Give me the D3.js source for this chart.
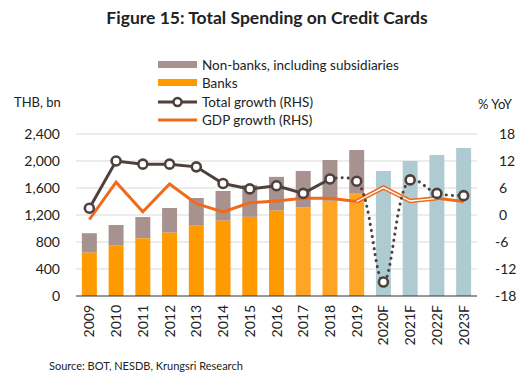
<!DOCTYPE html>
<html><head><meta charset="utf-8">
<script src="https://cdn.jsdelivr.net/npm/d3@7/dist/d3.min.js"></script>
<style>
body{margin:0;background:#fff;}
text{font-family:Lato, "Open Sans", sans-serif;fill:#222;}
</style></head>
<body><svg id="c" width="524" height="381"></svg>
<script>
const categories = ["2009","2010","2011","2012","2013","2014","2015","2016","2017","2018","2019","2020F","2021F","2022F","2023F"];
const banks = [642,745,855,938,1041,1116,1172,1264,1309,1410,1515,null,null,null,null];
const totalSpending = [930,1052,1170,1304,1452,1556,1644,1765,1852,2015,2163,1852,2000,2089,2193];
const totalGrowth = [1.5,12.0,11.3,11.3,10.7,7.0,5.8,6.5,4.8,8.0,7.5,-14.9,7.8,4.8,4.3];
const gdpGrowth = [-1.0,7.3,0.7,6.9,2.5,0.7,2.7,3.1,3.7,3.7,3.0,6.1,3.1,3.7,3.0];
const leftTicks = [0,400,800,1200,1600,2000,2400];
const rightTicks = [-18,-12,-6,0,6,12,18];

const C = {banks:"#FF9A00", banks2:"#FFA526", nonbanks:"#A8928F", forecast:"#AFCBD2", total:"#4E403D", gdp:"#F06A1C", grid:"#D9D9D9"};
const svg = d3.select("#c");
const m = {l:76, r:477, t:134, b:296};
const x = d3.scaleBand().domain(categories).range([m.l, m.r]).paddingInner(0.44).paddingOuter(0.22);
const yL = d3.scaleLinear().domain([0,2400]).range([m.b, m.t]);
const yR = d3.scaleLinear().domain([-18,18]).range([m.b, m.t]);
const cx = d => x(d) + x.bandwidth()/2;

// title
svg.append("text").attr("x",267).attr("y",24).attr("text-anchor","middle")
  .style("font-weight","bold").style("font-size","17.5px").attr("fill","#111").text("Figure 15: Total Spending on Credit Cards");

// gridlines
svg.append("g").selectAll("line").data(leftTicks.slice(1)).join("line")
  .attr("x1",m.l).attr("x2",m.r).attr("y1",d=>yL(d)).attr("y2",d=>yL(d))
  .attr("stroke",C.grid).attr("stroke-width",1);

// left axis labels
const fmt = d3.format(",");
svg.append("g").selectAll("text").data(leftTicks).join("text")
  .attr("x",60).attr("y",d=>yL(d)+5).attr("text-anchor","end").style("font-size","14px").text(d=>fmt(d));
// right axis labels
svg.append("g").selectAll("text").data(rightTicks).join("text")
  .attr("x",d=> d<0 ? 495 : 499).attr("y",d=>yR(d)+5).attr("text-anchor","start").style("font-size","14px").text(d=>d);

svg.append("text").attr("x",14).attr("y",107).style("font-size","13px").text("THB, bn");
svg.append("text").attr("x",478).attr("y",109).style("font-size","13px").text("% YoY");

// bars
const data = categories.map((c,i)=>({c, i, b:banks[i], t:totalSpending[i]}));
const g = svg.append("g");
data.forEach(d=>{
  if (d.b == null) {
    g.append("rect").attr("x",x(d.c)).attr("width",x.bandwidth())
      .attr("y",yL(d.t)).attr("height",yL(0)-yL(d.t)).attr("fill",C.forecast);
  } else {
    g.append("rect").attr("x",x(d.c)).attr("width",x.bandwidth())
      .attr("y",yL(d.t)).attr("height",yL(d.b)-yL(d.t)).attr("fill",C.nonbanks);
    g.append("rect").attr("x",x(d.c)).attr("width",x.bandwidth())
      .attr("y",yL(d.b)).attr("height",yL(0)-yL(d.b)).attr("fill", d.i>=8 ? C.banks2 : C.banks);
  }
});

// axis line
svg.append("line").attr("x1",m.l).attr("x2",m.r).attr("y1",m.b).attr("y2",m.b).attr("stroke","#333").attr("stroke-width",1.2);

// x labels
svg.append("g").selectAll("text").data(categories).join("text")
  .attr("transform",d=>`translate(${cx(d)+5},305) rotate(-90)`).attr("text-anchor","end")
  .style("font-size","14px").text(d=>d);

// GDP line
const pts = (arr) => arr.map((v,i)=>[cx(categories[i]), yR(v)]);
const gdpPts = pts(gdpGrowth);
const line = d3.line();
svg.append("path").attr("d",line(gdpPts.slice(0,11))).attr("fill","none").attr("stroke",C.gdp).attr("stroke-width",3);
svg.append("path").attr("d",line(gdpPts.slice(13,15))).attr("fill","none").attr("stroke",C.gdp).attr("stroke-width",3);
const dbl = gdpPts.slice(10,14);
svg.append("path").attr("d",line(dbl)).attr("fill","none").attr("stroke",C.gdp).attr("stroke-width",4.5);
svg.append("path").attr("d",line(dbl)).attr("fill","none").attr("stroke","#fff").attr("stroke-width",1.4);

// total growth
const tPts = pts(totalGrowth);
svg.append("path").attr("d",line(tPts.slice(0,10))).attr("fill","none").attr("stroke",C.total).attr("stroke-width",3);
svg.append("path").attr("d",d3.line().curve(d3.curveCatmullRom.alpha(0.5))(tPts.slice(9))).attr("fill","none")
  .attr("stroke",C.total).attr("stroke-width",3).attr("stroke-linecap","round").attr("stroke-dasharray","0.1 6");
svg.append("g").selectAll("circle").data(tPts).join("circle")
  .attr("cx",d=>d[0]).attr("cy",d=>d[1]).attr("r",4.5).attr("fill","#fff").attr("stroke",C.total).attr("stroke-width",2.6);

// legend
const lg = svg.append("g");
const lx = 158, lw = 39;
const rows = [65,83,102,120];
lg.append("rect").attr("x",lx).attr("y",rows[0]-4).attr("width",lw).attr("height",7).attr("fill",C.nonbanks);
lg.append("rect").attr("x",lx).attr("y",rows[1]-4).attr("width",lw).attr("height",7).attr("fill",C.banks);
lg.append("line").attr("x1",lx).attr("x2",lx+lw).attr("y1",rows[2]).attr("y2",rows[2]).attr("stroke",C.total).attr("stroke-width",3);
lg.append("circle").attr("cx",lx+lw/2).attr("cy",rows[2]).attr("r",4).attr("fill","#fff").attr("stroke",C.total).attr("stroke-width",2.5);
lg.append("line").attr("x1",lx).attr("x2",lx+lw).attr("y1",rows[3]).attr("y2",rows[3]).attr("stroke",C.gdp).attr("stroke-width",3);
const labels = ["Non-banks, including subsidiaries","Banks","Total growth (RHS)","GDP growth (RHS)"];
lg.selectAll("text").data(labels).join("text").attr("x",202).attr("y",(d,i)=>rows[i]+5).style("font-size","13.5px").text(d=>d);

// source
svg.append("text").attr("x",49).attr("y",370).style("font-size","11px").attr("fill","#444").text("Source: BOT, NESDB, Krungsri Research");
</script></body></html>
